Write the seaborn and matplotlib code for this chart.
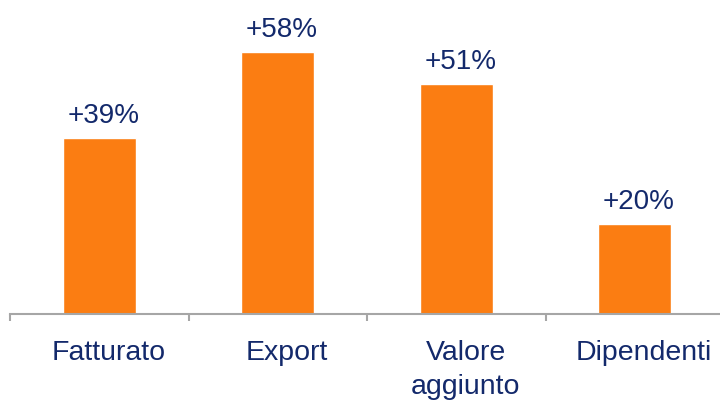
import matplotlib
matplotlib.use("Agg")
import matplotlib.pyplot as plt
import matplotlib.transforms as mtrans
import seaborn as sns
import pandas as pd

categories = ["Fatturato", "Export", "Valore\naggiunto", "Dipendenti"]
values = [39, 58, 51, 20]
labels = ["+39%", "+58%", "+51%", "+20%"]

ORANGE = "#FB7D12"
NAVY = "#13296B"
GRAY = "#A6A6A6"

sns.set_theme(style="white")
plt.rcParams["font.family"] = ["Liberation Sans", "DejaVu Sans"]

df = pd.DataFrame({"cat": categories, "val": values})

fig = plt.figure(figsize=(7.2, 4.0), dpi=100)
ax = fig.add_axes([10 / 720, 86 / 400, 714 / 720, 314 / 400])

sns.barplot(data=df, x="cat", y="val", color=ORANGE, width=0.41,
            saturation=1, ax=ax)

ax.set_xlim(-0.5, 3.5)
ax.set_ylim(0, 69.5)

for i, (v, lab) in enumerate(zip(values, labels)):
    ax.annotate(lab, xy=(i, v), xytext=(3, 10.5), textcoords="offset points",
                ha="center", va="baseline", fontsize=20, color=NAVY)

for s in ["top", "right", "left"]:
    ax.spines[s].set_visible(False)
ax.spines["bottom"].set_color(GRAY)
ax.spines["bottom"].set_linewidth(1.5)

ax.set_yticks([])
ax.set_xlabel("")
ax.set_ylabel("")
ax.set_xticks(range(len(categories)))
ax.set_xticklabels(categories, fontsize=20.5, color=NAVY, linespacing=1.4, va="top")
ax.tick_params(axis="x", which="major", length=0, pad=19)
shift = mtrans.ScaledTranslation(6.8 / 72, 0, fig.dpi_scale_trans)
for t in ax.get_xticklabels():
    t.set_transform(t.get_transform() + shift)
ax.set_xticks([-0.5, 0.5, 1.5, 2.5, 3.5], minor=True)
ax.tick_params(axis="x", which="minor", length=5, width=1.5, color=GRAY,
               direction="out", bottom=True)

fig.savefig("out.png", dpi=100)
